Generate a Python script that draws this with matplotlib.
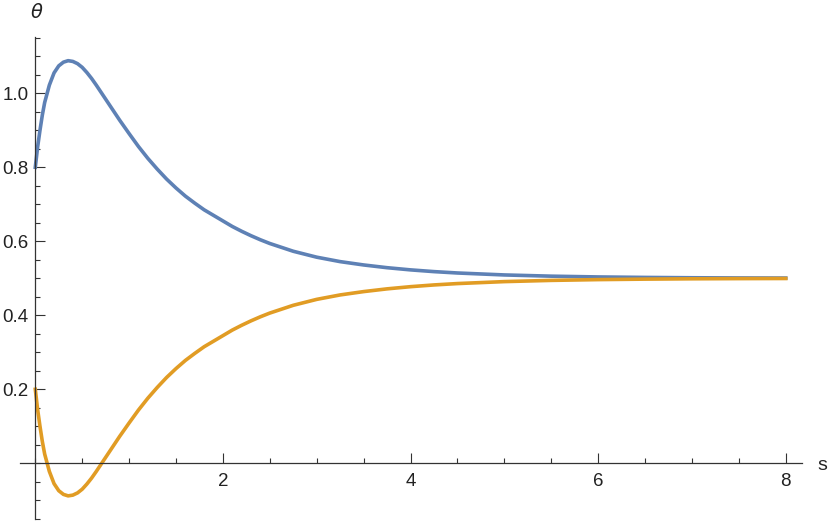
import matplotlib.pyplot as plt
from matplotlib.ticker import MultipleLocator, FixedLocator

s = [0.0, 0.025, 0.05, 0.075, 0.1, 0.15, 0.2, 0.25, 0.3, 0.35, 0.4, 0.45,
     0.5, 0.55, 0.6, 0.65, 0.7, 0.75, 0.8, 0.85, 0.9, 0.95, 1.0, 1.1, 1.2,
     1.3, 1.4, 1.5, 1.6, 1.7, 1.8, 1.9, 2.0, 2.1, 2.2, 2.3, 2.4, 2.5, 2.75,
     3.0, 3.25, 3.5, 3.75, 4.0, 4.25, 4.5, 5.0, 5.5, 6.0, 6.5, 7.0, 7.5, 8.0]
theta_upper = [0.800, 0.855, 0.900, 0.941, 0.975, 1.022, 1.055, 1.074, 1.084,
               1.088, 1.086, 1.080, 1.070, 1.056, 1.040, 1.022, 1.003, 0.984,
               0.965, 0.946, 0.927, 0.909, 0.891, 0.856, 0.824, 0.795, 0.768,
               0.744, 0.722, 0.703, 0.685, 0.670, 0.655, 0.640, 0.627, 0.615,
               0.604, 0.594, 0.573, 0.557, 0.545, 0.536, 0.5286, 0.5227,
               0.518, 0.5143, 0.509, 0.5057, 0.5036, 0.5023, 0.5014, 0.5009,
               0.5006]
theta_lower = [0.200, 0.145, 0.100, 0.059, 0.025, -0.022, -0.055, -0.074,
               -0.084, -0.088, -0.086, -0.080, -0.070, -0.056, -0.040, -0.022,
               -0.003, 0.016, 0.035, 0.054, 0.073, 0.091, 0.109, 0.144, 0.176,
               0.205, 0.232, 0.256, 0.278, 0.297, 0.315, 0.330, 0.345, 0.360,
               0.373, 0.385, 0.396, 0.406, 0.427, 0.443, 0.455, 0.464, 0.4714,
               0.4773, 0.482, 0.4857, 0.491, 0.4943, 0.4964, 0.4977, 0.4986,
               0.4991, 0.4994]

blue = "#5e81b5"
orange = "#e19c24"
axis_color = "#333333"

plt.rcParams["font.family"] = ["Liberation Sans", "DejaVu Sans"]

fig = plt.figure(figsize=(8.3, 5.21), dpi=100)
ax = fig.add_axes([20 / 830, 2 / 521, 781.7 / 830, 482 / 521])

ax.plot(s, theta_upper, color=blue, linewidth=2.6, solid_joinstyle="round")
ax.plot(s, theta_lower, color=orange, linewidth=2.6, solid_joinstyle="round")

ax.set_xlim(-0.163, 8.17)
ax.set_ylim(-0.1505, 1.152)

for side in ("top", "right"):
    ax.spines[side].set_visible(False)
for side in ("left", "bottom"):
    ax.spines[side].set_position(("data", 0))
    ax.spines[side].set_color(axis_color)
    ax.spines[side].set_linewidth(0.9)

ax.xaxis.set_major_locator(FixedLocator([2, 4, 6, 8]))
ax.xaxis.set_minor_locator(MultipleLocator(0.5))
ax.yaxis.set_major_locator(FixedLocator([0.2, 0.4, 0.6, 0.8, 1.0]))
ax.yaxis.set_minor_locator(MultipleLocator(0.05))

ax.tick_params(which="both", direction="in", color=axis_color, width=0.8,
               labelsize=13.5, labelcolor="#222222")
ax.tick_params(which="major", length=7)
ax.tick_params(which="minor", length=3.6)
ax.tick_params(axis="x", which="major", pad=7)
ax.tick_params(axis="y", which="major", pad=5)
ax.set_xticklabels(["2", "4", "6", "8"])
ax.set_yticklabels(["0.2", "0.4", "0.6", "0.8", "1.0"])

fig.text(37 / 830, 1 - 12 / 521, "θ", fontsize=14, style="italic",
         ha="center", va="center", color="#222222", family="DejaVu Sans")
fig.text(822 / 830, 1 - 465 / 521, "s", fontsize=14, ha="center", va="center",
         color="#222222")

fig.savefig("out.png", dpi=100)
